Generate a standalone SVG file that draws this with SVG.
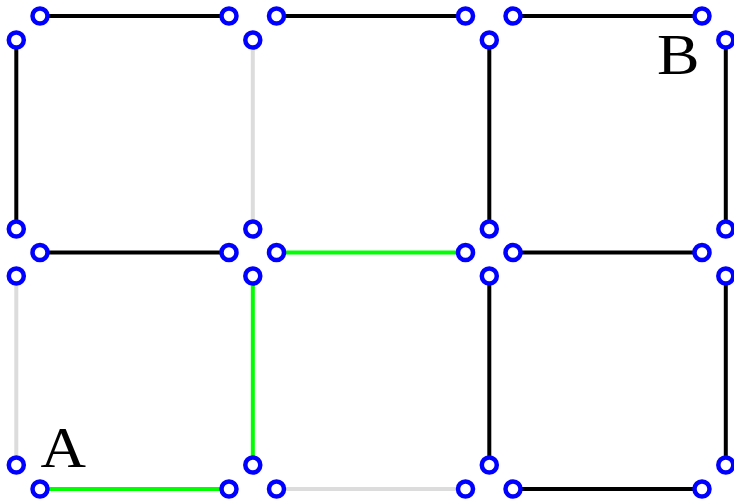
<svg xmlns="http://www.w3.org/2000/svg" width="734" height="500" viewBox="0 0 734 500">
<style>
.e{stroke-width:4;fill:none;stroke-linecap:butt}
.k{stroke:#000}
.g{stroke:#dcdcdc}
.n{stroke:#00ff00}
.c{fill:#fff;stroke:#0000ff;stroke-width:4.5}
.t{font-family:"Liberation Serif","DejaVu Serif",serif;font-size:56px;fill:#000}
</style>
<rect width="734" height="500" fill="#fff"/>
<g id="connectors">
<line class="e k" x1="40" y1="16" x2="229" y2="16"/>
<line class="e k" x1="276.5" y1="16" x2="465.5" y2="16"/>
<line class="e k" x1="513" y1="16" x2="702" y2="16"/>
<line class="e k" x1="40" y1="252.5" x2="229" y2="252.5"/>
<line class="e n" x1="276.5" y1="252.5" x2="465.5" y2="252.5"/>
<line class="e k" x1="513" y1="252.5" x2="702" y2="252.5"/>
<line class="e n" x1="40" y1="489" x2="229" y2="489"/>
<line class="e g" x1="276.5" y1="489" x2="465.5" y2="489"/>
<line class="e k" x1="513" y1="489" x2="702" y2="489"/>
<line class="e k" x1="16.3" y1="40" x2="16.3" y2="229"/>
<line class="e g" x1="16.3" y1="276" x2="16.3" y2="465"/>
<line class="e g" x1="252.8" y1="40" x2="252.8" y2="229"/>
<line class="e n" x1="252.8" y1="276" x2="252.8" y2="465"/>
<line class="e k" x1="489.3" y1="40" x2="489.3" y2="229"/>
<line class="e k" x1="489.3" y1="276" x2="489.3" y2="465"/>
<line class="e k" x1="725.8" y1="40" x2="725.8" y2="229"/>
<line class="e k" x1="725.8" y1="276" x2="725.8" y2="465"/>
</g>
<g id="nodes">
<circle class="c" cx="40" cy="16" r="7.5"/>
<circle class="c" cx="229" cy="16" r="7.5"/>
<circle class="c" cx="276.5" cy="16" r="7.5"/>
<circle class="c" cx="465.5" cy="16" r="7.5"/>
<circle class="c" cx="513" cy="16" r="7.5"/>
<circle class="c" cx="702" cy="16" r="7.5"/>
<circle class="c" cx="40" cy="252.5" r="7.5"/>
<circle class="c" cx="229" cy="252.5" r="7.5"/>
<circle class="c" cx="276.5" cy="252.5" r="7.5"/>
<circle class="c" cx="465.5" cy="252.5" r="7.5"/>
<circle class="c" cx="513" cy="252.5" r="7.5"/>
<circle class="c" cx="702" cy="252.5" r="7.5"/>
<circle class="c" cx="40" cy="489" r="7.5"/>
<circle class="c" cx="229" cy="489" r="7.5"/>
<circle class="c" cx="276.5" cy="489" r="7.5"/>
<circle class="c" cx="465.5" cy="489" r="7.5"/>
<circle class="c" cx="513" cy="489" r="7.5"/>
<circle class="c" cx="702" cy="489" r="7.5"/>
<circle class="c" cx="16.3" cy="40" r="7.5"/>
<circle class="c" cx="16.3" cy="229" r="7.5"/>
<circle class="c" cx="16.3" cy="276" r="7.5"/>
<circle class="c" cx="16.3" cy="465" r="7.5"/>
<circle class="c" cx="252.8" cy="40" r="7.5"/>
<circle class="c" cx="252.8" cy="229" r="7.5"/>
<circle class="c" cx="252.8" cy="276" r="7.5"/>
<circle class="c" cx="252.8" cy="465" r="7.5"/>
<circle class="c" cx="489.3" cy="40" r="7.5"/>
<circle class="c" cx="489.3" cy="229" r="7.5"/>
<circle class="c" cx="489.3" cy="276" r="7.5"/>
<circle class="c" cx="489.3" cy="465" r="7.5"/>
<circle class="c" cx="725.8" cy="40" r="7.5"/>
<circle class="c" cx="725.8" cy="229" r="7.5"/>
<circle class="c" cx="725.8" cy="276" r="7.5"/>
<circle class="c" cx="725.8" cy="465" r="7.5"/>
</g>
<g id="labels">
<text class="t" x="40.5" y="466.7" textLength="45.5" lengthAdjust="spacingAndGlyphs">A</text>
<text class="t" x="657" y="74" textLength="42.5" lengthAdjust="spacingAndGlyphs">B</text>
</g>
</svg>
